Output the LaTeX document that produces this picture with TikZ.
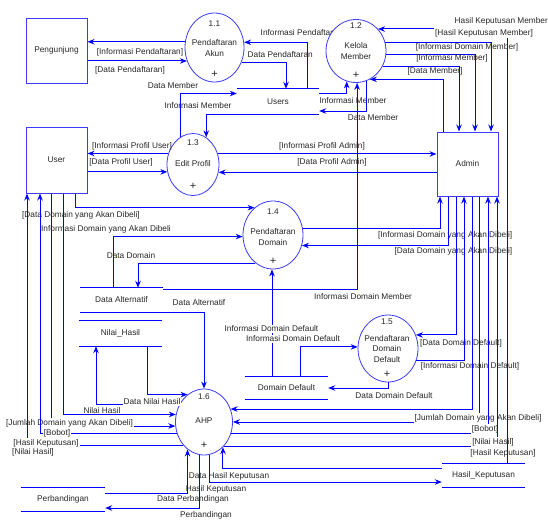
\documentclass[tikz,border=0pt]{standalone}
\usepackage{fontspec}
\setmainfont{Liberation Sans}
\usetikzlibrary{arrows.meta,shapes.geometric,positioning}
\definecolor{flowblue}{RGB}{0,0,255}
\definecolor{shapeblue}{RGB}{60,60,250}
\tikzset{
  flow/.style={draw=flowblue, line width=1pt, -{Stealth[length=7pt,width=5.5pt]}},
  lbl/.style={font=\fontsize{8.3}{11}\selectfont, inner sep=0.5pt, text=black!85},
  lblw/.style={lbl, fill=white, inner sep=1pt},
  plus/.style={font=\fontsize{11}{11}\selectfont, inner sep=0pt, text=black!85},
  ent/.style={lbl, draw=shapeblue, line width=1pt, rectangle, minimum width=61pt, inner sep=0pt},
  proc/.style={draw=shapeblue, line width=0.8pt, ellipse, fill=white, inner sep=0pt},
  store/.style={lbl, minimum width=83pt, inner sep=0pt},
  storeline/.style={draw=flowblue, line width=1.1pt}
}
\begin{document}
\begin{tikzpicture}[x=1pt, y=-1pt]
\useasboundingbox (0,0) rectangle (548,525);

% entitas luar
\node (peng) [ent, minimum height=65pt] at (56.5,50.5) {Pengunjung};
\node (user) [ent, minimum height=66pt] at (56.5,160) {User};
\node (admin) [ent, minimum height=64pt] at (467.5,164) {Admin};

% data store
\node (users) [store, minimum width=82pt, minimum height=25pt] at (278,101.5) {Users};
\node (da) [store, minimum height=24pt] at (121.5,300) {Data Alternatif};
\node (nh) [store, minimum height=25pt] at (120.5,333.5) {Nilai\_Hasil};
\node (dd) [store, minimum height=22pt] at (286.5,388) {Domain Default};
\node (perb) [store, minimum width=84pt, minimum height=23pt] at (63,499.5) {Perbandingan};
\node (hk) [store, minimum height=23pt] at (483.5,475.5) {Hasil\_Keputusan};
\draw[storeline] (users.north west) -- (users.north east) (users.south west) -- (users.south east);
\draw[storeline] (da.north west) -- (da.north east) (da.south west) -- (da.south east);
\draw[storeline] (nh.north west) -- (nh.north east) (nh.south west) -- (nh.south east);
\draw[storeline] (dd.north west) -- (dd.north east) (dd.south west) -- (dd.south east);
\draw[storeline] (perb.north west) -- (perb.north east) (perb.south west) -- (perb.south east);
\draw[storeline] (hk.north west) -- (hk.north east) (hk.south west) -- (hk.south east);

\node (t3) [lbl, anchor=west] at (260,33) {Informasi Pendaftaran};

% proses
\node (p11) [proc, minimum width=59pt, minimum height=69pt] at (214.5,47.5) {};
\node (p11n) [lbl] at (214.5,24) {1.1};
\node (p11t) [lbl, align=center] at (214.5,48.5) {Pendaftaran\\Akun};
\node (p11p) [plus] at (214.5,74) {+};
\node (p12) [proc, minimum width=60pt, minimum height=63pt] at (356,51) {};
\node (p12n) [lbl] at (356,26) {1.2};
\node (p12t) [lbl, align=center] at (356,51.5) {Kelola\\Member};
\node (p12p) [plus] at (356,75) {+};
\node (p13) [proc, minimum width=52pt, minimum height=62pt] at (193,164.5) {};
\node (p13n) [lbl] at (193,143) {1.3};
\node (p13t) [lbl] at (193,164) {Edit Profil};
\node (p13p) [plus] at (193,186) {+};
\node (p14) [proc, minimum width=60pt, minimum height=68pt] at (273,235) {};
\node (p14n) [lbl] at (273,212) {1.4};
\node (p14t) [lbl, align=center] at (273,237.5) {Pendaftaran\\Domain};
\node (p14p) [plus] at (273,261) {+};
\node (p15) [proc, minimum width=60pt, minimum height=67pt] at (388,348.5) {};
\node (p15n) [lbl] at (387,322) {1.5};
\node (p15t) [lbl, align=center, font=\fontsize{8.3}{10.5}\selectfont] at (387,349) {Pendaftaran\\Domain\\Default};
\node (p15p) [plus] at (387,374) {+};
\node (p16) [proc, minimum width=57pt, minimum height=66pt] at (204,422) {};
\node (p16n) [lbl] at (204,397) {1.6};
\node (p16t) [lbl] at (204,421) {AHP};
\node (p16p) [plus] at (204,445) {+};

% Pengunjung - 1.1 - Users
\draw[flow] (p11.169.3) -- (peng.east |- p11.169.3);
\node (t1) [lbl] at (140,52) {[Informasi Pendaftaran]};
\draw[flow] (peng.east |- p11.206.4) -- (p11.206.4);
\node (t2) [lbl] at (130,70) {[Data Pendaftaran]};
\draw[flow] ([xshift=29pt]users.north) |- (p11.10.7);
\draw[flow] (p11.331.6) -| ([xshift=8pt]users.north);
\node (t4) [lbl, anchor=west] at (247,55) {Data Pendaftaran};

% Users - 1.3 / 1.2
\draw[flow] (p13.115.8) |- ([yshift=8pt]users.west);
\node (t5) [lbl] at (173,86) {Data Member};
\draw[flow] (users.south west) -| (p13.64.2);
\node (t6) [lbl] at (198,106) {Informasi Member};
\draw[flow] ([yshift=8pt]users.east) -| (p12.253.3);
\node (t7) [lbl] at (353,101) {Informasi Member};
\draw[flow] (p12.290.6) |- ([yshift=-9.5pt]users.east);
\node (t8) [lbl] at (373,118) {Data Member};

% 1.2 - Admin
\draw[flow] (p12.17.4) -| ([xshift=23.5pt]admin.north);
\node (t11) [lbl] at (467,47) {[Informasi Domain Member]};
\draw[flow] (p12.354.3) -| ([xshift=7.5pt]admin.north);
\node (t12) [lbl] at (452,58) {[Informasi Member]};
\draw[flow] (p12.330.4) -| ([xshift=-8.5pt]admin.north);
\node (t13) [lbl] at (435,71) {[Data Member]};
\draw[flow] ([xshift=-24.5pt]admin.north) |- (p12.296.1);

% 1.3 - User / Admin
\draw[flow] (p13.156.8) -- (user.east |- p13.156.8);
\node (t14) [lbl] at (132,146) {[Informasi Profil User]};
\draw[flow] (user.east |- p13.196.6) -- (p13.196.6);
\node (t15) [lbl] at (121,162) {[Data Profil User]};
\draw[flow] (p13.23.2) -- (admin.west |- p13.23.2);
\node (t16) [lbl] at (322,146) {[Informasi Profil Admin]};
\draw[flow] (admin.west |- p13.343.4) -- (p13.343.4);
\node (t17) [lbl] at (332,162) {[Data Profil Admin]};

% 1.4
\draw[flow] ([xshift=18.5pt]user.south) |- (p14.124);
\node (t18) [lbl] at (81,215) {[Data Domain yang Akan Dibeli]};
\draw[flow] ([xshift=-8.5pt]da.north) |- (p14.183.8);
\node (t19) [lbl] at (106,229) {Informasi Domain yang Akan Dibeli};
\draw[flow] (p14.238.7) -| ([xshift=16.5pt]da.north);
\node (t20) [lbl] at (131,256) {Data Domain};
\draw[flow] (p14.13.4) -| ([xshift=-27.5pt]admin.south);
\node (t21) [lbl, anchor=east] at (513,235) {[Informasi Domain yang Akan Dibeli]};
\draw[flow] ([xshift=-19.5pt]admin.south) |- (p14.340.8);
\node (t22) [lbl, anchor=east] at (513,251) {[Data Domain yang Akan Dibeli]};
\draw[flow] ([yshift=-2pt]da.north east) -| (p12.272);
\node (t23) [lbl] at (363,297) {Informasi Domain Member};

% 1.5
\coordinate (ddup) at ([xshift=-14.5pt]dd.north);
\draw[flow] (ddup) -- (ddup |- p14.south);
\node (t25) [lblw, inner sep=0.5pt] at (271.5,329) {Informasi Domain Default};
\node (t26) [lblw, inner sep=0.5pt] at (293,339) {Informasi Domain Default};
\draw[flow] ([xshift=13.5pt]dd.north) |- (p15.177);
\draw[flow] (p15.south) |- (dd.east);
\node (t29) [lbl] at (394,396) {Data Domain Default};
\draw[flow] ([xshift=-11.5pt]admin.south) |- (p15.26.2);
\node (t27) [lbl] at (461,343) {[Data Domain Default]};
\draw[flow] (p15.337.8) -| ([xshift=-3.5pt]admin.south);
\node (t28) [lbl] at (470,366) {[Informasi Domain Default]};

% 1.6 sisi kiri
\draw[flow] (da.south east) -| (p16.north);
\node (t24) [lbl] at (199,303) {Data Alternatif};
\draw[flow] ([xshift=26.5pt]nh.south) |- (p16.121.3);
\draw[flow] (p16.145.2) -| ([xshift=-24.5pt]nh.south);
\node (t30) [lblw] at (152,402) {Data Nilai Hasil};
\draw[flow] ([xshift=6.5pt]user.south) |- (p16.165.9);
\node (t31) [lbl] at (102,411) {Nilai Hasil};
\draw[flow] ([xshift=-5.5pt]user.south) |- (p16.188.05);
\node (t32) [lblw] at (69.5,423) {[Jumlah Domain yang Akan Dibeli]};
\draw[flow] (p16.202.3) -| ([xshift=-16.5pt]user.south);
\node (t33) [lblw] at (57,433) {[Bobot]};
\draw[flow] (p16.228.4) -| ([xshift=-29.5pt]user.south);
\node (t34) [lblw] at (46,443) {[Hasil Keputusan]};
\node (t35) [lbl] at (33,452) {[Nilai Hasil]};

% 1.6 sisi kanan
\draw[flow] ([xshift=4.5pt]admin.south) |- (p16.26.4);
\node (t39) [lbl] at (503,453) {[Hasil Keputusan]};
\draw[flow] ([xshift=11.5pt]admin.south) |- (p16.east);
\node (t36) [lblw] at (478,418) {[Jumlah Domain yang Akan Dibeli]};
\draw[flow] (p16.337.7) -| ([xshift=20.5pt]admin.south);
\node (t37) [lblw] at (485,429) {[Bobot]};
\draw[flow] (p16.309.2) -| ([xshift=29.5pt]admin.south);
\node (t38) [lblw] at (493,442) {[Nilai Hasil]};
\draw[flow] ([xshift=23.5pt]hk.north) |- (p12.45.7);
\node (t10) [lblw] at (484,33) {[Hasil Keputusan Member]};
\node (t9) [lbl, anchor=west] at (454,21) {Hasil Keputusan Member};

% 1.6 - Hasil_Keputusan / Perbandingan
\draw[flow] ([yshift=7.5pt]hk.west) -| (p16.307.7);
\node (t40) [lbl] at (229,476) {Data Hasil Keputusan};
\draw[flow] (p16.280.5) |- ([yshift=-6.5pt]hk.west);
\node (t41) [lbl] at (216,489) {Hasil Keputusan};
\draw[flow] ([yshift=6.5pt]perb.east) -| (p16.239.6);
\node (t42) [lbl] at (193,499) {Data Perbandingan};
\draw[flow] (p16.263) |- ([yshift=-8.5pt]perb.east);
\node (t43) [lbl] at (206,515) {Perbandingan};
\end{tikzpicture}
\end{document}
